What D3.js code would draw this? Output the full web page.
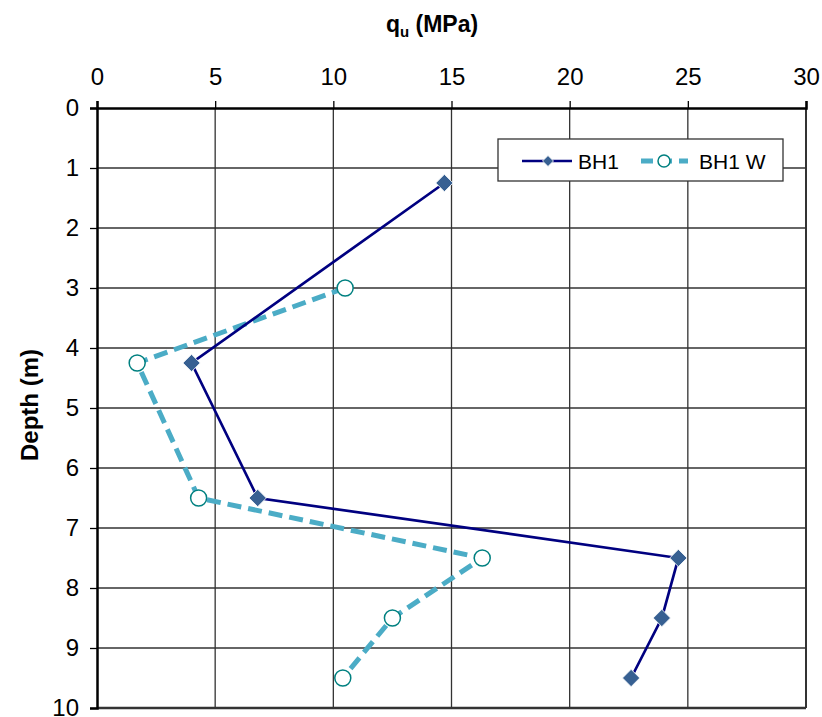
<!DOCTYPE html>
<html>
<head>
<meta charset="utf-8">
<script src="https://cdn.jsdelivr.net/npm/d3@7"></script>
<style>
  body { margin: 0; background: #fff; }
  text { font-family: "Liberation Sans", Arial, sans-serif; }
</style>
</head>
<body>
<script>
// data
var bh1Depth = [1.25, 4.25, 6.5, 7.5, 8.5, 9.5];
var bh1Qu = [14.7, 4.0, 6.8, 24.6, 23.9, 22.6];
var bh1wDepth = [3.0, 4.25, 6.5, 7.5, 8.5, 9.5];
var bh1wQu = [10.5, 1.7, 4.3, 16.3, 12.5, 10.4];
var xTicks = [0, 5, 10, 15, 20, 25, 30];
var yTicks = [0, 1, 2, 3, 4, 5, 6, 7, 8, 9, 10];
var seriesNames = ["BH1", "BH1 W"];

margin = { top: 108, left: 97, bottom: 9, right: 16 };
width = 822 - margin.left - margin.right;
height = 717 - margin.top - margin.bottom;

var bh1 = bh1Depth.map((d, i) => ({ depth: d, qu: bh1Qu[i] }));
var bh1w = bh1wDepth.map((d, i) => ({ depth: d, qu: bh1wQu[i] }));

var x = d3.scaleLinear().domain([0, 30]).range([0, width]);
var y = d3.scaleLinear().domain([0, 10]).range([0, height]);

const svg = d3
  .create("svg")
  .attr("width", 822)
  .attr("height", 717);

const chart = svg
  .append("g")
  .attr("transform", `translate(${margin.left},${margin.top})`);

// gridlines
chart
  .append("g")
  .selectAll("line")
  .data(xTicks.slice(1))
  .join("line")
  .attr("x1", (d) => x(d))
  .attr("x2", (d) => x(d))
  .attr("y1", 0)
  .attr("y2", height)
  .attr("stroke", "#333")
  .attr("stroke-width", (d) => (d === 30 ? 2 : 1.3));
chart
  .append("g")
  .selectAll("line")
  .data(yTicks.slice(1))
  .join("line")
  .attr("x1", 0)
  .attr("x2", width)
  .attr("y1", (d) => y(d))
  .attr("y2", (d) => y(d))
  .attr("stroke", "#333")
  .attr("stroke-width", (d) => (d === 10 ? 2.5 : 1.3));

// top x-axis
const xAxis = chart
  .append("g")
  .call(d3.axisTop(x).tickValues(xTicks).tickSize(7).tickPadding(16));
xAxis.select(".domain").attr("stroke-width", 2.5).attr("stroke", "#000");
xAxis.selectAll(".tick line").attr("stroke", "#000").attr("stroke-width", 1.3);
xAxis.selectAll("text").attr("font-size", 24).attr("fill", "#000");

// left y-axis
const yAxis = chart
  .append("g")
  .call(d3.axisLeft(y).tickValues(yTicks).tickSize(7).tickPadding(11));
yAxis.select(".domain").attr("stroke-width", 2.5).attr("stroke", "#000");
yAxis.selectAll(".tick line").attr("stroke", "#000").attr("stroke-width", 1.3);
yAxis.selectAll("text").attr("font-size", 24).attr("fill", "#000");

// axis titles
const xt = svg
  .append("text")
  .attr("x", 432)
  .attr("y", 32)
  .attr("text-anchor", "middle")
  .attr("font-size", 23)
  .attr("font-weight", "bold");
xt.append("tspan").text("q");
xt.append("tspan").attr("font-size", 15).attr("dy", 5).text("u");
xt.append("tspan").attr("dy", -5).text(" (MPa)");

svg
  .append("text")
  .attr("transform", "translate(38,405) rotate(-90)")
  .attr("text-anchor", "middle")
  .attr("font-size", 24)
  .attr("font-weight", "bold")
  .text("Depth (m)");

const line = d3
  .line()
  .x((d) => x(d.qu))
  .y((d) => y(d.depth));

// BH1 W dashed
chart
  .append("path")
  .attr("fill", "none")
  .attr("stroke", "#4BACC6")
  .attr("stroke-width", 5)
  .attr("stroke-dasharray", "14,7")
  .attr("d", line(bh1w));

// BH1 solid
chart
  .append("path")
  .attr("fill", "none")
  .attr("stroke", "#000080")
  .attr("stroke-width", 2.7)
  .attr("d", line(bh1));

chart
  .selectAll(".bh1w")
  .data(bh1w)
  .join("circle")
  .attr("class", "bh1w")
  .attr("cx", (d) => x(d.qu))
  .attr("cy", (d) => y(d.depth))
  .attr("r", 8)
  .attr("fill", "#fff")
  .attr("stroke", "#008080")
  .attr("stroke-width", 1.5);

const diamond = d3.symbol().type(d3.symbolSquare).size(150);
chart
  .selectAll(".bh1")
  .data(bh1)
  .join("path")
  .attr("class", "bh1")
  .attr("d", diamond)
  .attr("transform", (d) => `translate(${x(d.qu)},${y(d.depth)}) rotate(45)`)
  .attr("fill", "#376092")
  .attr("stroke", "#fff")
  .attr("stroke-width", 0.8);

// legend
const lg = svg.append("g").attr("transform", "translate(498,139)");
lg.append("rect")
  .attr("width", 285)
  .attr("height", 42)
  .attr("fill", "#fff")
  .attr("stroke", "#333")
  .attr("stroke-width", 1.3);
lg.append("line")
  .attr("x1", 24).attr("x2", 74).attr("y1", 22).attr("y2", 22)
  .attr("stroke", "#000080").attr("stroke-width", 2.7);
lg.append("path")
  .attr("d", d3.symbol().type(d3.symbolSquare).size(60))
  .attr("transform", "translate(50,22) rotate(45)")
  .attr("fill", "#376092")
  .attr("stroke", "#fff")
  .attr("stroke-width", 0.8);
lg.append("text").attr("x", 80).attr("y", 29.5).attr("font-size", 21).text(seriesNames[0]);
lg.append("line")
  .attr("x1", 143).attr("x2", 190).attr("y1", 22).attr("y2", 22)
  .attr("stroke", "#4BACC6").attr("stroke-width", 5)
  .attr("stroke-dasharray", "12,7");
lg.append("circle")
  .attr("cx", 166).attr("cy", 22).attr("r", 6)
  .attr("fill", "#fff").attr("stroke", "#008080").attr("stroke-width", 1.5);
lg.append("text").attr("x", 201).attr("y", 29.5).attr("font-size", 21).text(seriesNames[1]);

d3.select("body").append(() => svg.node());
</script>
</body>
</html>
